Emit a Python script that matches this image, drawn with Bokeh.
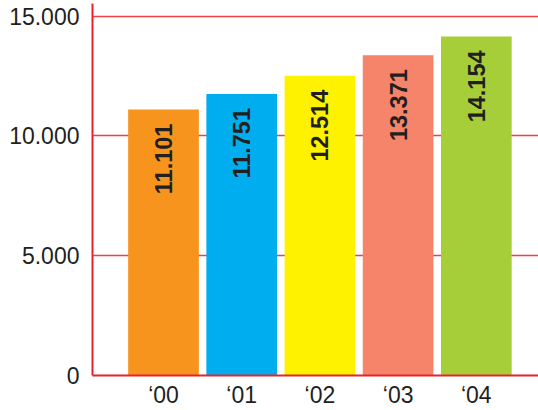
import math
from bokeh.plotting import figure
from bokeh.models import ColumnDataSource, FixedTicker, Range1d
from bokeh.embed import file_html
from bokeh.resources import INLINE
from bokeh.core.properties import value

# Yearly totals
years = ["\u201800", "\u201801", "\u201802", "\u201803", "\u201804"]
totals = [11101, 11751, 12514, 13371, 14154]
bar_colors = ["#f7941d", "#00aeef", "#fff200", "#f5846a", "#a6ce39"]
y_ticks = [0, 5000, 10000, 15000]
y_tick_labels = ["0", "5.000", "10.000", "15.000"]


def fmt(v):
    return f"{v:,}".replace(",", ".")


idx = list(range(len(years)))
src = ColumnDataSource(dict(
    x=idx,
    top=totals,
    color=bar_colors,
    label=[fmt(v) for v in totals],
))

RED = "#e8222c"
GRID_RED = "#ef4048"
INK = "#231f20"
FONT = "Liberation Sans"

p = figure(
    width=538, height=410,
    output_backend="svg", toolbar_location=None,
    x_range=Range1d(-0.908, 4.795),
    y_range=Range1d(0, 15530),
    min_border_left=92, min_border_right=0,
    min_border_top=3, min_border_bottom=34,
)
p.outline_line_color = None
p.background_fill_color = "white"
p.border_fill_color = "white"

p.vbar(x="x", top="top", bottom=0, width=0.904, color="color",
       line_color=None, source=src)

p.text(x="x", y="top", text="label", source=src,
       angle=math.pi / 2, text_align="right", text_baseline="middle",
       y_offset=14, text_font=value(FONT), text_font_style="bold",
       text_font_size="23.5px", text_color=INK)

# axes and grid
p.xgrid.visible = False
p.ygrid.grid_line_color = GRID_RED
p.ygrid.grid_line_width = 1.3

p.yaxis.ticker = FixedTicker(ticks=y_ticks)
p.yaxis.major_label_overrides = dict(zip(y_ticks, y_tick_labels))
p.xaxis.ticker = FixedTicker(ticks=idx)
p.xaxis.major_label_overrides = dict(zip(idx, years))

for ax in (p.xaxis, p.yaxis):
    ax.axis_line_color = RED
    ax.axis_line_width = 2
    ax.major_tick_line_color = None
    ax.minor_tick_line_color = None
    ax.major_tick_out = 0
    ax.major_tick_in = 0
    ax.major_label_text_font = FONT
    ax.major_label_text_font_size = "23px"
    ax.major_label_text_color = INK

p.yaxis.major_label_standoff = 13
p.xaxis.major_label_standoff = 6

open("out.html", "w").write(file_html(p, INLINE))
